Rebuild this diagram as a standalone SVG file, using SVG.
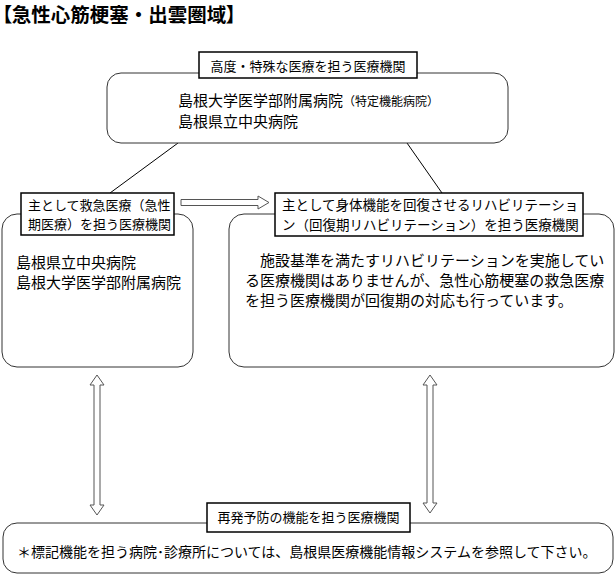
<svg xmlns="http://www.w3.org/2000/svg" width="616" height="575" viewBox="0 0 616 575">
<style>
text{font-family:"Noto Sans CJK JP","Noto Sans CJK SC",sans-serif;fill:#000}
.title{font-size:19.5px;font-weight:bold}
.palt{font-feature-settings:"palt"}
.round{fill:#fff;stroke:#333;stroke-width:1}
.label{fill:#fff;stroke:#000;stroke-width:1.5}
.lt{font-size:13px}
.bt{font-size:15px}
.arrow{fill:#fff;stroke:#555;stroke-width:1}
.line{stroke:#000;stroke-width:1;fill:none}
</style>
<rect width="616" height="575" fill="#fff"/>
<text class="title" x="2" y="21.5"><tspan class="palt">【</tspan>急性心筋梗塞・出雲圏域<tspan class="palt">】</tspan></text>
<g id="connectors">
<line class="line" x1="178" y1="143" x2="110" y2="193"/>
<line class="line" x1="407" y1="143" x2="442" y2="193"/>
<polygon class="arrow" points="181,199.5 258,199.5 258,196 269,202.5 258,209 258,205.5 181,205.5"/>
<polygon class="arrow" points="97,375 104,385 100,385 100,505 104,505 97,515 90,505 94,505 94,385 90,385"/>
<polygon class="arrow" points="430,375 437,385 433,385 433,503 437,503 430,513 423,503 427,503 427,385 423,385"/>
</g>
<g id="node-top">
<rect class="round" x="107" y="73" width="401" height="70" rx="14"/>
<rect class="label" x="199" y="52" width="218" height="26"/>
<text class="lt" x="308" y="70.5" text-anchor="middle">高度・特殊な医療を担う医療機関</text>
<text class="bt" x="178" y="106">島根大学医学部附属病院<tspan font-size="12px">（特定機能病院）</tspan></text>
<text class="bt" x="178" y="127">島根県立中央病院</text>
</g>
<g id="node-acute">
<rect class="round" x="2" y="214" width="191" height="153" rx="15"/>
<rect class="label" x="21" y="193" width="153" height="42"/>
<text class="lt" x="28" y="210">主として救急医療（急性</text>
<text class="lt" x="28" y="228.5">期医療）を担う医療機関</text>
<text class="bt" x="16" y="268">島根県立中央病院</text>
<text class="bt" x="16" y="288">島根大学医学部附属病院</text>
</g>
<g id="node-rehab">
<rect class="round" x="229" y="214" width="385" height="153" rx="15"/>
<rect class="label" x="275" y="193" width="308" height="43"/>
<text x="282" y="210" style="font-size:13.5px">主として身体機能を回復させるリハビリテーショ</text>
<text x="282" y="229.7" style="font-size:13.5px">ン（回復期リハビリテーション）を担う医療機関</text>
<text class="bt" x="245" y="266">　施設基準を満たすリハビリテーションを実施してい</text>
<text class="bt" x="245" y="286">る医療機関はありませんが、急性心筋梗塞の救急医療</text>
<text class="bt" x="245" y="306">を担う医療機関が回復期の対応も行っています。</text>
</g>
<g id="node-prevention">
<rect class="round" x="3" y="523" width="610" height="50" rx="14"/>
<rect class="label" x="207" y="503" width="203" height="29"/>
<text class="lt" x="308.5" y="522" text-anchor="middle">再発予防の機能を担う医療機関</text>
<text x="17" y="557" style="font-size:14px">＊標記機能を担う病院･診療所については、島根県医療機能情報システムを参照して下さい。</text>
</g>
</svg>
